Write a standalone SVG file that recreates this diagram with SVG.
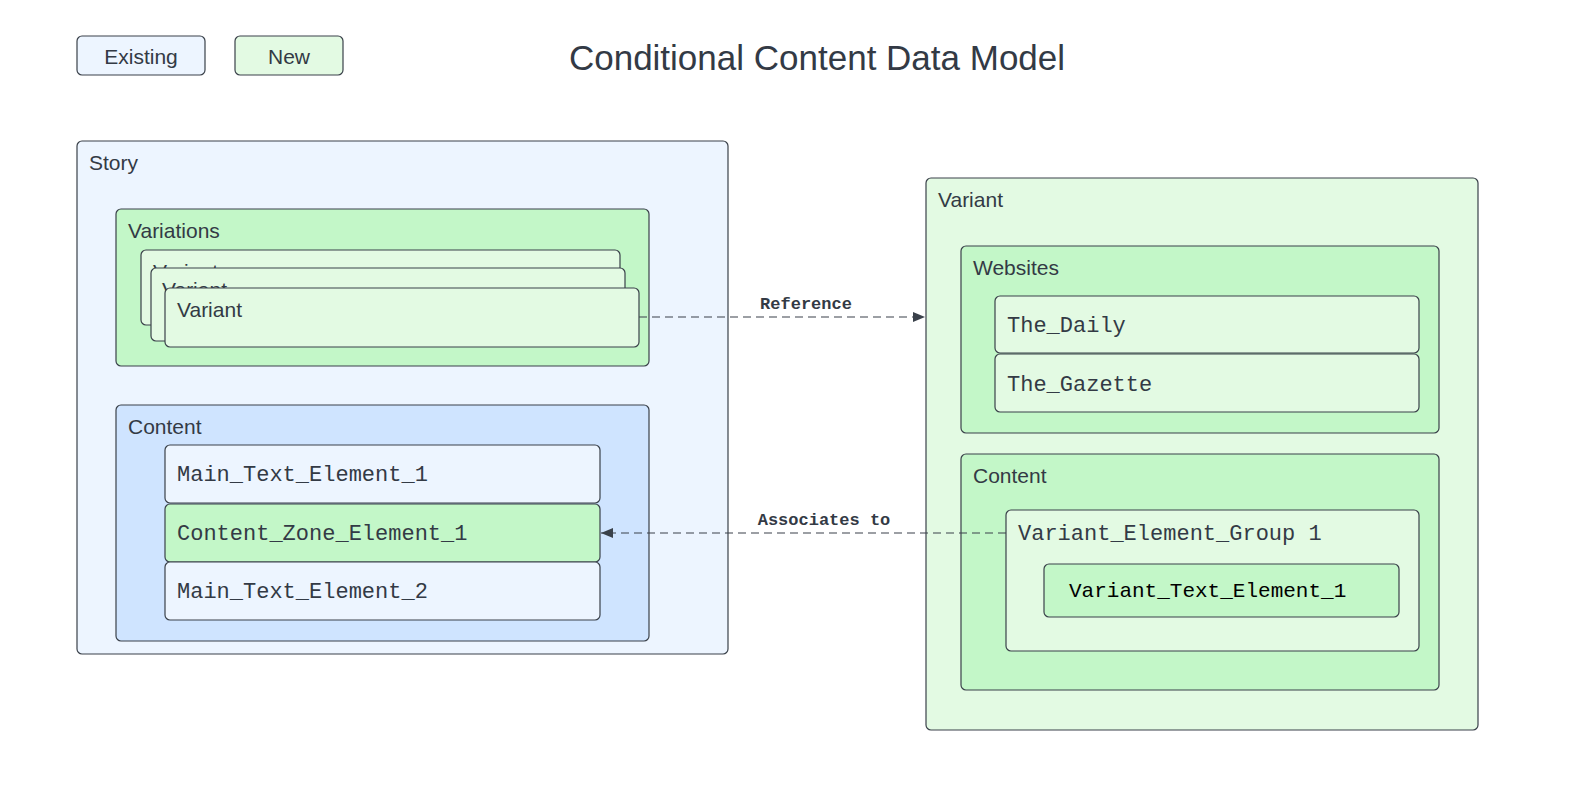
<svg xmlns="http://www.w3.org/2000/svg" width="1587" height="801" viewBox="0 0 1587 801">
<defs>
<style>
.box{stroke:#3a414a;stroke-width:1.2}
.ex{fill:#edf5ff}
.exd{fill:#cfe4ff}
.nw{fill:#e3fae3}
.nwd{fill:#c3f7c8}
.lbl{font-family:"Liberation Sans",Arial,sans-serif;font-size:21px;fill:#333a45}
.mono{font-family:"Liberation Mono","Courier New",monospace;font-size:22px;fill:#333a45}
.elbl{font-family:"Liberation Mono","Courier New",monospace;font-size:17px;font-weight:bold;fill:#333a45}
.edge{fill:none;stroke:#3a414a;stroke-width:1.2;stroke-dasharray:8,5}
</style>
<marker id="arr" viewBox="0 0 12 10" refX="12" refY="5" markerWidth="12" markerHeight="10" markerUnits="userSpaceOnUse" orient="auto">
<path d="M0,0 L12,5 L0,10 z" fill="#3a414a"/>
</marker>
</defs>
<rect width="1587" height="801" fill="#ffffff"/>

<g id="legend-existing">
<rect class="box ex" x="77" y="36" width="128" height="39" rx="5"/>
<text class="lbl" x="141" y="64" text-anchor="middle">Existing</text>
</g>
<g id="legend-new">
<rect class="box nw" x="235" y="36" width="108" height="39" rx="5"/>
<text class="lbl" x="289" y="64" text-anchor="middle">New</text>
</g>
<g id="title">
<text x="817" y="70" text-anchor="middle" style="font-family:'Liberation Sans',Arial,sans-serif;font-size:35px;fill:#333a45">Conditional Content Data Model</text>
</g>

<g id="story">
<rect class="box ex" x="77" y="141" width="651" height="513" rx="5"/>
<text class="lbl" x="89" y="170">Story</text>
</g>
<g id="variations">
<rect class="box nwd" x="116" y="209" width="533" height="157" rx="5"/>
<text class="lbl" x="128" y="238">Variations</text>
</g>
<g id="variant-card-1">
<rect class="box nw" x="141" y="250" width="479" height="75" rx="5"/>
<text class="lbl" x="153" y="279">Variant</text>
</g>
<g id="variant-card-2">
<rect class="box nw" x="151" y="268" width="474" height="73" rx="5"/>
<text class="lbl" x="162" y="297">Variant</text>
</g>
<g id="variant-card-3">
<rect class="box nw" x="165" y="288" width="474" height="59" rx="5"/>
<text class="lbl" x="177" y="317">Variant</text>
</g>

<g id="story-content">
<rect class="box exd" x="116" y="405" width="533" height="236" rx="5"/>
<text class="lbl" x="128" y="434">Content</text>
</g>
<g id="main-text-element-1">
<rect class="box ex" x="165" y="445" width="435" height="58" rx="5"/>
<text class="mono" x="177" y="481">Main_Text_Element_1</text>
</g>
<g id="content-zone-element-1">
<rect class="box nwd" x="165" y="504" width="435" height="58" rx="5"/>
<text class="mono" x="177" y="540">Content_Zone_Element_1</text>
</g>
<g id="main-text-element-2">
<rect class="box ex" x="165" y="562" width="435" height="58" rx="5"/>
<text class="mono" x="177" y="598">Main_Text_Element_2</text>
</g>

<g id="variant">
<rect class="box nw" x="926" y="178" width="552" height="552" rx="5"/>
<text class="lbl" x="938" y="207">Variant</text>
</g>
<g id="websites">
<rect class="box nwd" x="961" y="246" width="478" height="187" rx="5"/>
<text class="lbl" x="973" y="275">Websites</text>
</g>
<g id="the-daily">
<rect class="box nw" x="995" y="296" width="424" height="57" rx="5"/>
<text class="mono" x="1007" y="332">The_Daily</text>
</g>
<g id="the-gazette">
<rect class="box nw" x="995" y="354" width="424" height="58" rx="5"/>
<text class="mono" x="1007" y="391">The_Gazette</text>
</g>
<g id="variant-content">
<rect class="box nwd" x="961" y="454" width="478" height="236" rx="5"/>
<text class="lbl" x="973" y="483">Content</text>
</g>
<g id="variant-element-group-1">
<rect class="box nw" x="1006" y="510" width="413" height="141" rx="5"/>
<text class="mono" x="1018" y="540">Variant_Element_Group 1</text>
</g>
<g id="variant-text-element-1">
<rect class="box nwd" x="1044" y="564" width="355" height="53" rx="5"/>
<text class="mono" x="1069" y="597" style="fill:#000;font-size:21px">Variant_Text_Element_1</text>
</g>

<g id="connectors">
<path class="edge" d="M639,317 L925,317" marker-end="url(#arr)"/>
<text class="elbl" x="806" y="309" text-anchor="middle">Reference</text>
<path class="edge" d="M1006,533 L601,533" marker-end="url(#arr)"/>
<text class="elbl" x="824" y="525" text-anchor="middle">Associates to</text>
</g>
</svg>
